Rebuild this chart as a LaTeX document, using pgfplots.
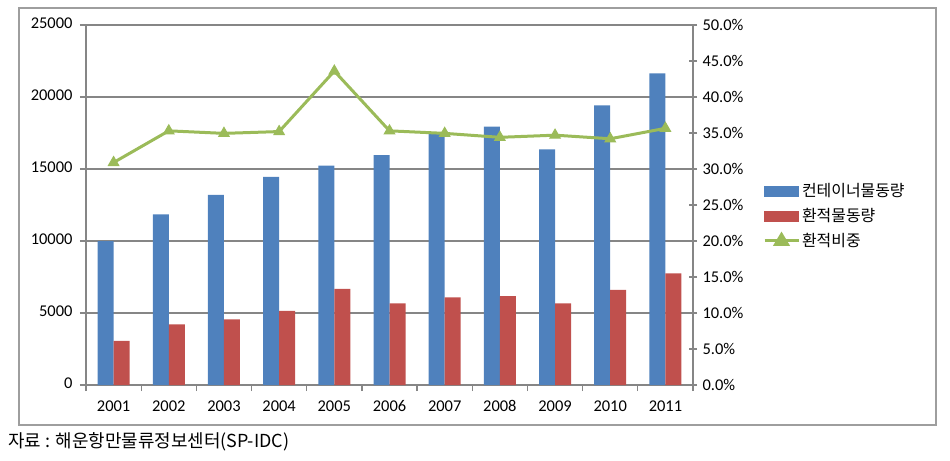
\documentclass[border=0pt]{standalone}
\usepackage{fontspec}
\setmainfont{Carlito}
\newfontfamily\kr{Noto Sans CJK KR}
\usepackage{pgfplots}
\pgfplotsset{compat=1.18}
\definecolor{cblue}{HTML}{4F81BD}
\definecolor{cred}{HTML}{C0504D}
\definecolor{cgreen}{HTML}{9BBB59}
\definecolor{cgrid}{HTML}{868686}
\begin{document}
\begin{tikzpicture}
\useasboundingbox (0bp,0bp) rectangle (950bp,-461bp);
\draw[cgrid!80, line width=1.2bp] (19bp,-8bp) rectangle (936bp,-425bp);
\begin{axis}[
  at={(86bp,-385bp)}, anchor=south west,
  scale only axis, width=607bp, height=360bp,
  xmin=-0.5, xmax=10.5, ymin=0, ymax=25000,
  axis x line*=bottom, axis y line*=left,
  axis line style={cgrid, line width=1.5bp},
  xtick={-0.5,0.5,...,10.5},
  x tick label as interval,
  xticklabels={2001,2002,2003,2004,2005,2006,2007,2008,2009,2010,2011},
  ytick={0,5000,...,25000},
  scaled y ticks=false,
  yticklabel style={/pgf/number format/1000 sep={}},
  /pgf/number format/assume math mode=true,
  typeset ticklabels with strut,
  tick style={cgrid, line width=1.2bp},
  major tick length=6bp,
  tick align=outside,
  ymajorgrids, grid style={cgrid, line width=1.5bp},
  tick label style={font=\fontsize{16.5}{19}\selectfont, text=black},
  xticklabel style={yshift=-4bp},
  yticklabel style={xshift=-4bp},
  bar width=0.29,
]
\addplot[ybar, bar shift=-0.145, fill=cblue, draw=none] coordinates {
 (0,10000) (1,11850) (2,13200) (3,14450) (4,15230) (5,15970)
 (6,17480) (7,17940) (8,16370) (9,19420) (10,21640)};
\addplot[ybar, bar shift=0.145, fill=cred, draw=none] coordinates {
 (0,3060) (1,4210) (2,4560) (3,5140) (4,6670) (5,5670)
 (6,6090) (7,6180) (8,5670) (9,6600) (10,7750)};
\end{axis}
\begin{axis}[
  at={(86bp,-385bp)}, anchor=south west,
  scale only axis, width=607bp, height=360bp,
  xmin=-0.5, xmax=10.5, ymin=0, ymax=50,
  hide x axis,
  axis y line*=right,
  axis line style={cgrid, line width=1.5bp},
  ytick={0,5,...,50},
  yticklabel={\pgfmathprintnumber[fixed,fixed zerofill,precision=1]{\tick}\%},
  /pgf/number format/assume math mode=true,
  tick style={cgrid, line width=1.2bp},
  major tick length=8bp,
  tick align=center,
  tick label style={font=\fontsize{16.5}{19}\selectfont, text=black},
  yticklabel style={xshift=2bp},
  legend style={at={(1.115,0.47)}, anchor=west, draw=none, fill=none,
    font=\kr\fontsize{16}{19}\selectfont, row sep=6bp,
    legend cell align=left, inner sep=0pt},
]
\addlegendimage{legend image code/.code={\fill[cblue] (0bp,-5bp) rectangle (34bp,5bp);}}
\addlegendentry{컨테이너물동량}
\addlegendimage{legend image code/.code={\fill[cred] (0bp,-5bp) rectangle (34bp,5bp);}}
\addlegendentry{환적물동량}
\addplot[color=cgreen, line width=3bp, mark=triangle*, mark size=6bp,
  mark options={fill=cgreen, line width=1bp},
  legend image code/.code={\draw[cgreen, line width=3bp] (0bp,0bp) -- (34bp,0bp);
    \fill[cgreen] (17bp,6bp) -- (11bp,-4bp) -- (23bp,-4bp) -- cycle;}]
 coordinates {
 (0,30.9) (1,35.3) (2,34.95) (3,35.2) (4,43.6) (5,35.3)
 (6,34.95) (7,34.4) (8,34.7) (9,34.2) (10,35.65)};
\addlegendentry{환적비중}
\end{axis}
\node[anchor=west, font=\kr\fontsize{18}{21}\selectfont, inner sep=0pt] at (8bp,-442bp) {자료 : 해운항만물류정보센터(SP-IDC)};
\end{tikzpicture}
\end{document}
